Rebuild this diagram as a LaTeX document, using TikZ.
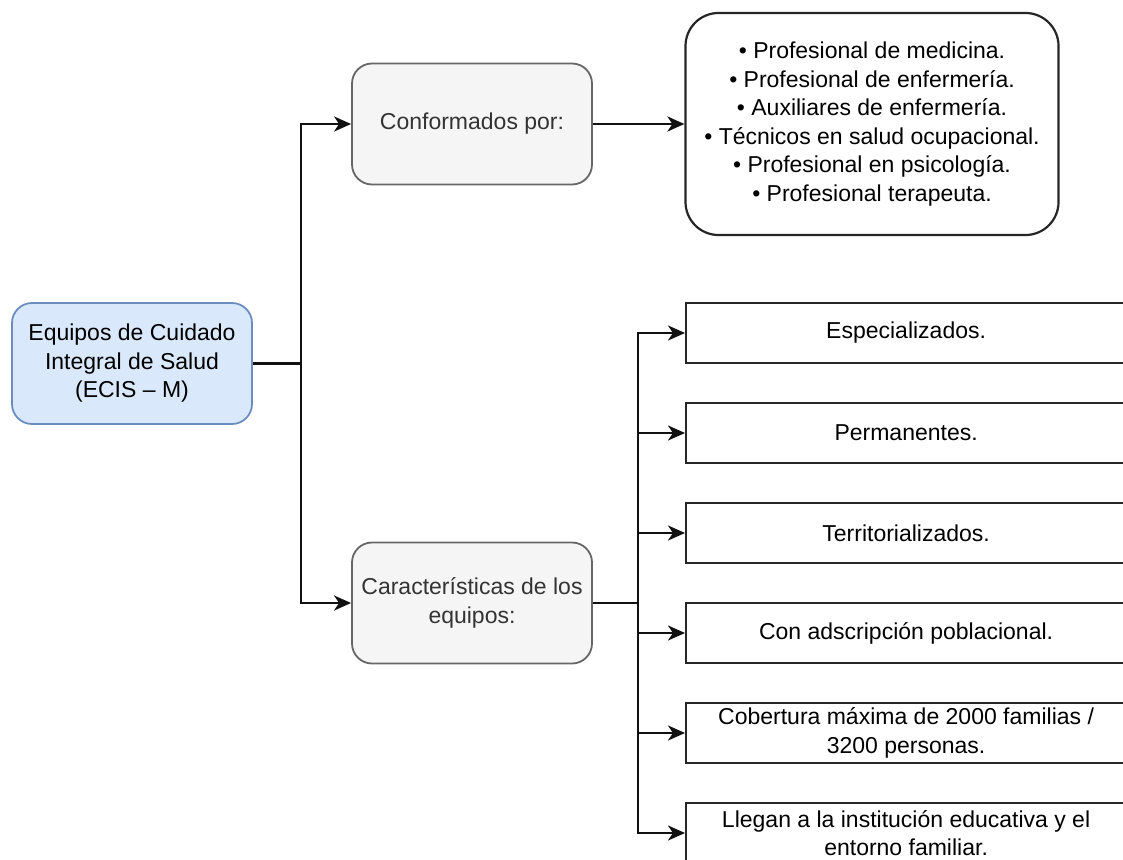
\documentclass[tikz,border=0pt]{standalone}
\usepackage{fontspec}
\setmainfont{Liberation Sans}
\usetikzlibrary{arrows.meta}
\definecolor{rootfill}{HTML}{DAE8FC}
\definecolor{rootline}{HTML}{6C8EBF}
\definecolor{grayfill}{HTML}{F5F5F5}
\definecolor{grayline}{HTML}{666666}
\definecolor{graytext}{HTML}{333333}
\definecolor{edgecol}{HTML}{111111}
\tikzset{
  basebox/.style={draw, inner sep=0pt, align=center,
    font=\fontsize{23}{28.5}\selectfont},
  rootbox/.style={basebox, fill=rootfill, draw=rootline, line width=1.8pt,
    rounded corners=20pt, minimum width=240pt, minimum height=121pt},
  midbox/.style={basebox, fill=grayfill, draw=grayline, line width=1.8pt,
    rounded corners=20pt, minimum width=240pt, minimum height=121pt,
    text=graytext},
  listbox/.style={basebox, fill=white, draw=black!85, line width=2.2pt,
    rounded corners=33pt, minimum width=373pt, minimum height=222pt},
  itembox/.style={basebox, fill=white, draw=black!85, line width=2.2pt,
    minimum width=440pt, minimum height=60pt, anchor=west},
  link/.style={draw=edgecol, line width=2.6pt,
    -{Stealth[length=17pt,width=15pt,inset=5pt]}},
  plain/.style={draw=edgecol, line width=2.6pt}
}
\begin{document}
\begin{tikzpicture}[x=1pt,y=-1pt]
\useasboundingbox (0,0) rectangle (1123,859);
\clip (0,0) rectangle (1123,859);

% main blocks
\node[rootbox] (root) at (132,363.5) {Equipos de Cuidado\\Integral de Salud\\(ECIS -- M)};
\node[midbox] (conf) at (472,124) {Conformados por:};
\node[midbox] (carac) at (472,603) {Características de los\\equipos:};
\node[listbox] (list) at (872,124) {• Profesional de medicina.\\• Profesional de enfermería.\\• Auxiliares de enfermería.\\• Técnicos en salud ocupacional.\\• Profesional en psicología.\\• Profesional terapeuta.};

% characteristics
\node[itembox] (c1) at (685,333) {Especializados.};
\node[itembox] (c2) at (685,433) {Permanentes.};
\node[itembox] (c3) at (685,533) {Territorializados.};
\node[itembox] (c4) at (685,633) {Con adscripción poblacional.};
\node[itembox] (c5) at (685,733) {Cobertura máxima de 2000 familias /\\3200 personas.};
\node[itembox] (c6) at (685,833) {Llegan a la institución educativa y el\\entorno familiar.};

% junction points
\coordinate (j1) at (301,363.5);
\coordinate (j2) at (638,603);

% connectors from the root
\draw[plain] (root.east) -- (j1);
\draw[link] (j1) |- (conf.west);
\draw[link] (j1) |- (carac.west);

% members list
\draw[link] (conf.east) -- (list.west);

% characteristics fan-out
\draw[plain] (carac.east) -- (j2);
\foreach \n in {c1,c2,c3,c4,c5,c6}
  \draw[link] (j2) |- (\n.west);
\end{tikzpicture}
\end{document}
